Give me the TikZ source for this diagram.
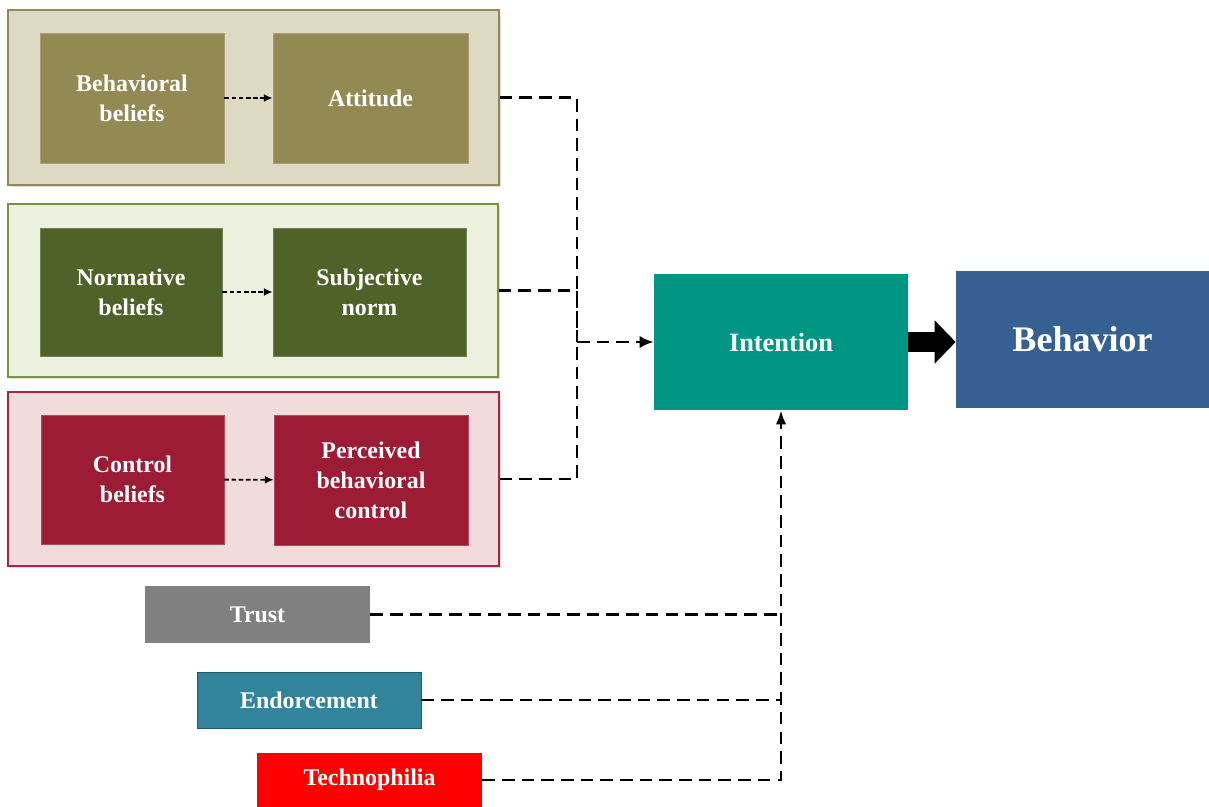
\documentclass[tikz,border=0pt]{standalone}
\usepackage{fontspec}
\setmainfont{Liberation Serif}
\usepackage{tikz}
\usetikzlibrary{arrows.meta,shadows}

\definecolor{beigebg}{HTML}{DDD9C3}
\definecolor{beigeline}{HTML}{948A54}
\definecolor{olive}{HTML}{938953}
\definecolor{greenbg}{HTML}{EBF1DE}
\definecolor{greenline}{HTML}{77933C}
\definecolor{darkgreen}{HTML}{4F6228}
\definecolor{pinkbg}{HTML}{F2DCDB}
\definecolor{redline}{HTML}{A8263F}
\definecolor{maroon}{HTML}{9B1C34}
\definecolor{tealint}{HTML}{009683}
\definecolor{bluebeh}{HTML}{376092}
\definecolor{endoblue}{HTML}{31849B}
\definecolor{endoline}{HTML}{215968}

\tikzset{
    panel/.style={draw=#1, line width=0.8pt, drop shadow={opacity=0.25, shadow xshift=1pt, shadow yshift=-1pt}},
    innerbox/.style={fill=#1, draw=#1!80!white, text=white, align=center,
        font=\fontsize{13.6}{17}\selectfont\bfseries},
    factor/.style={fill=#1, text=white, align=center,
        font=\fontsize{13.6}{17}\selectfont\bfseries},
    smalldash/.style={dash pattern=on 2.6pt off 1.5pt, line width=1.1pt, -{Latex[length=5pt,width=4.5pt]}},
    bigdash/.style={dash pattern=on 7.2pt off 4pt, line width=1.5pt},
}

\begin{document}
\begin{tikzpicture}[x=0.02cm, y=-0.02cm]
    \useasboundingbox (0,0) rectangle (1209,807);

    % the three belief panels
    \node [panel=beigeline, fill=beigebg, minimum width=9.82cm, minimum height=3.5cm] (attpanel) at (253.5,97.5) {};
    \node [panel=greenline, fill=greenbg, minimum width=9.8cm, minimum height=3.46cm] (normpanel) at (253,290.5) {};
    \node [panel=redline, fill=pinkbg, minimum width=9.82cm, minimum height=3.48cm] (ctrlpanel) at (253.5,479) {};

    \node [innerbox=olive, minimum width=3.68cm, minimum height=2.6cm] (behbel) at (132,98) {Behavioral\\beliefs};
    \node [innerbox=olive, minimum width=3.9cm, minimum height=2.6cm] (attitude) at (370.5,98) {Attitude};
    \node [innerbox=darkgreen, minimum width=3.64cm, minimum height=2.56cm] (normbel) at (131,292) {Normative\\beliefs};
    \node [innerbox=darkgreen, minimum width=3.86cm, minimum height=2.56cm] (subnorm) at (369.5,292) {Subjective\\norm};
    \node [innerbox=maroon, minimum width=3.66cm, minimum height=2.58cm] (ctrlbel) at (132.5,479.5) {Control\\beliefs};
    \node [innerbox=maroon, minimum width=3.88cm, minimum height=2.6cm] (pbc) at (371,480) {Perceived\\behavioral\\control};

    \draw [smalldash] (behbel) -- (attitude);
    \draw [smalldash] (normbel) -- (subnorm);
    \draw [smalldash] (ctrlbel) -- (pbc);

    % intention and behavior
    \node [factor=tealint, minimum width=5.08cm, minimum height=2.72cm,
        font=\fontsize{15}{18}\selectfont\bfseries] (intention) at (781,342) {Intention};
    \node [factor=bluebeh, minimum width=5.06cm, minimum height=2.74cm,
        font=\fontsize{20.5}{24}\selectfont\bfseries] (behavior) at (1082.5,339.5) {Behavior};
    \draw [line width=0.42cm, -{Triangle[length=0.42cm,width=0.84cm]}] (intention.east) -- (intention.east -| behavior.west);

    % extra factors
    \node [factor=gray, minimum width=4.5cm, minimum height=1.14cm] (trust) at (257.5,614.5) {Trust};
    \node [factor=endoblue, draw=endoline, minimum width=4.48cm, minimum height=1.12cm] (endorse) at (309,700) {Endorcement};
    \node [factor=red, minimum width=4.5cm, minimum height=1.08cm] (techno) at (369.5,780) {Technophilia};

    % dashed connectors
    \coordinate (tpbjoin) at (577,342);
    \draw [bigdash] (attpanel.east) -| (tpbjoin);
    \draw [bigdash] (ctrlpanel.east) -| (tpbjoin);
    \draw [bigdash] (normpanel.east) -| (tpbjoin);
    \draw [bigdash, -{Latex[length=8pt,width=7pt]}] (tpbjoin) -- (intention.west);

    \draw [bigdash, -{Latex[length=8pt,width=6pt]}] (techno.east) -| (intention.south);
    \draw [bigdash] (trust.east) -- (trust.east -| intention.south);
    \draw [bigdash] (endorse.east) -- (endorse.east -| intention.south);
\end{tikzpicture}
\end{document}
